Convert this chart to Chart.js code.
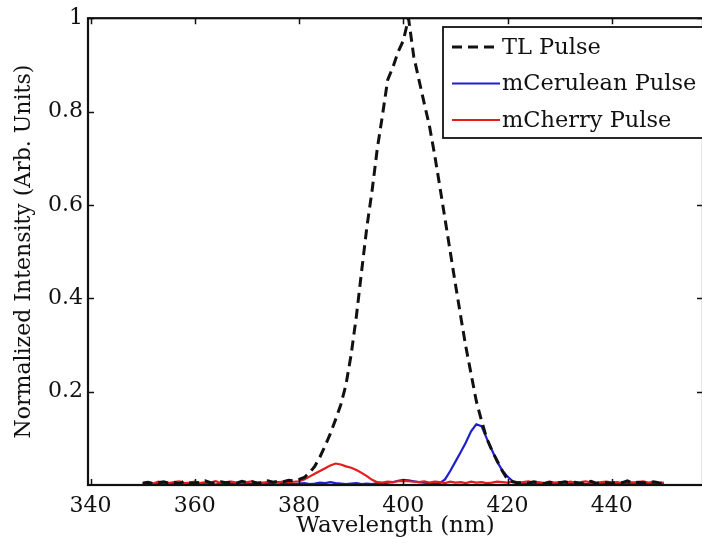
<!DOCTYPE html>
<html>
<head>
<meta charset="utf-8">
<script src="https://cdn.jsdelivr.net/npm/chart.js@4.4.1/dist/chart.umd.min.js"></script>
<style>
  html, body { margin: 0; padding: 0; overflow: hidden; background: #fff; }
  canvas { display: block; }
</style>
</head>
<body>
<canvas id="spectrumChart" width="760" height="550"></canvas>
<script>
// ── Spectra (normalized, 350–450 nm, 1 nm step) ─────────────
const wavelengths = [
    350, 351, 352, 353, 354, 355, 356, 357, 358, 359,
    360, 361, 362, 363, 364, 365, 366, 367, 368, 369,
    370, 371, 372, 373, 374, 375, 376, 377, 378, 379,
    380, 381, 382, 383, 384, 385, 386, 387, 388, 389,
    390, 391, 392, 393, 394, 395, 396, 397, 398, 399,
    400, 401, 402, 403, 404, 405, 406, 407, 408, 409,
    410, 411, 412, 413, 414, 415, 416, 417, 418, 419,
    420, 421, 422, 423, 424, 425, 426, 427, 428, 429,
    430, 431, 432, 433, 434, 435, 436, 437, 438, 439,
    440, 441, 442, 443, 444, 445, 446, 447, 448, 449,
    450
];

const tlPulse = [
    0.004, 0.006, 0.003, 0.005, 0.007, 0.004, 0.006, 0.003, 0.008, 0.005,
    0.004, 0.006, 0.009, 0.005, 0.004, 0.007, 0.005, 0.006, 0.004, 0.008,
    0.005, 0.007, 0.004, 0.006, 0.009, 0.006, 0.008, 0.007, 0.010, 0.009,
    0.012, 0.016, 0.026, 0.040, 0.060, 0.084, 0.110, 0.140, 0.172, 0.215,
    0.280, 0.362, 0.458, 0.552, 0.630, 0.720, 0.792, 0.868, 0.895, 0.928,
    0.952, 1.000, 0.918, 0.868, 0.818, 0.770, 0.708, 0.640, 0.570, 0.500,
    0.430, 0.362, 0.296, 0.238, 0.180, 0.138, 0.100, 0.074, 0.052, 0.030,
    0.012, 0.007, 0.005, 0.006, 0.004, 0.007, 0.005, 0.003, 0.006, 0.004,
    0.005, 0.007, 0.004, 0.006, 0.003, 0.005, 0.008, 0.004, 0.006, 0.005,
    0.004, 0.006, 0.005, 0.009, 0.004, 0.006, 0.005, 0.004, 0.007, 0.005,
    0.004
];

const ceruleanPulse = [
    0.002, 0.003, 0.001, 0.004, 0.002, 0.003, 0.002, 0.001, 0.003, 0.002,
    0.003, 0.002, 0.004, 0.002, 0.001, 0.003, 0.002, 0.004, 0.003, 0.002,
    0.004, 0.002, 0.003, 0.005, 0.002, 0.004, 0.006, 0.003, 0.004, 0.002,
    0.003, 0.004, 0.002, 0.003, 0.005, 0.004, 0.006, 0.004, 0.003, 0.002,
    0.003, 0.004, 0.002, 0.003, 0.002, 0.004, 0.003, 0.005, 0.006, 0.009,
    0.011, 0.010, 0.008, 0.006, 0.005, 0.004, 0.003, 0.004, 0.012, 0.030,
    0.050, 0.070, 0.091, 0.115, 0.130, 0.126, 0.100, 0.075, 0.050, 0.031,
    0.018, 0.008, 0.003, 0.004, 0.002, 0.003, 0.004, 0.002, 0.003, 0.002,
    0.004, 0.003, 0.002, 0.003, 0.005, 0.002, 0.003, 0.004, 0.002, 0.003,
    0.002, 0.004, 0.003, 0.002, 0.005, 0.003, 0.002, 0.004, 0.003, 0.002,
    0.003
];

const cherryPulse = [
    0.004, 0.006, 0.003, 0.007, 0.005, 0.004, 0.006, 0.008, 0.004, 0.005,
    0.007, 0.004, 0.006, 0.005, 0.008, 0.004, 0.006, 0.007, 0.005, 0.004,
    0.006, 0.008, 0.005, 0.004, 0.007, 0.006, 0.005, 0.008, 0.006, 0.007,
    0.008, 0.012, 0.018, 0.024, 0.030, 0.036, 0.042, 0.046, 0.044, 0.040,
    0.037, 0.032, 0.026, 0.019, 0.011, 0.006, 0.005, 0.007, 0.006, 0.008,
    0.009, 0.008, 0.007, 0.006, 0.008, 0.005, 0.007, 0.006, 0.004, 0.007,
    0.005, 0.006, 0.004, 0.007, 0.005, 0.006, 0.004, 0.005, 0.007, 0.006,
    0.005, 0.007, 0.004, 0.006, 0.008, 0.005, 0.006, 0.004, 0.007, 0.005,
    0.006, 0.004, 0.007, 0.005, 0.006, 0.008, 0.005, 0.004, 0.006, 0.007,
    0.005, 0.006, 0.004, 0.007, 0.005, 0.006, 0.008, 0.005, 0.006, 0.004,
    0.005
];

const xTicks = [340, 360, 380, 400, 420, 440];
const yTicks = [0.2, 0.4, 0.6, 0.8, 1];

(function () {
    const FAMILY = "'DejaVu Serif', serif";
    const TICK_FONT = { family: FAMILY, size: 22 };
    const INK = '#111';

    const toPoints = ys => wavelengths.map((w, i) => ({ x: w, y: ys[i] }));

    // ── Inward tick marks + full box frame ────────────────────
    const axesBox = {
        id: 'axesBox',
        afterDatasetsDraw(chart) {
            const { ctx, chartArea: a, scales: { x, y } } = chart;
            const len = 6;
            ctx.save();
            ctx.strokeStyle = INK;
            ctx.lineWidth = 1.5;
            ctx.beginPath();
            xTicks.forEach(v => {
                const px = Math.round(x.getPixelForValue(v)) + 0.5;
                ctx.moveTo(px, a.bottom); ctx.lineTo(px, a.bottom - len);
                ctx.moveTo(px, a.top); ctx.lineTo(px, a.top + len);
            });
            yTicks.forEach(v => {
                const py = Math.round(y.getPixelForValue(v)) + 0.5;
                ctx.moveTo(a.left, py); ctx.lineTo(a.left + len, py);
                ctx.moveTo(a.right, py); ctx.lineTo(a.right - len, py);
            });
            ctx.stroke();
            ctx.lineWidth = 2.2;
            ctx.strokeRect(a.left, a.top, a.right - a.left, a.bottom - a.top);
            ctx.restore();
        }
    };

    // ── Legend box (top right, runs off the edge) ─────────────
    const legendBox = {
        id: 'legendBox',
        afterDraw(chart) {
            const { ctx } = chart;
            const box = { x: 443, y: 27, w: 300, h: 111 };
            ctx.save();
            ctx.fillStyle = '#fff';
            ctx.fillRect(box.x, box.y, box.w, box.h);
            ctx.strokeStyle = INK;
            ctx.lineWidth = 1.8;
            ctx.strokeRect(box.x, box.y, box.w, box.h);
            ctx.font = `22.5px ${FAMILY}`;
            ctx.textBaseline = 'middle';
            chart.data.datasets.forEach((ds, i) => {
                const cy = box.y + 20 + i * 36.5;
                ctx.beginPath();
                ctx.strokeStyle = ds.borderColor;
                ctx.lineWidth = ds.borderWidth;
                ctx.setLineDash(ds.borderDash || []);
                ctx.moveTo(box.x + 9, cy);
                ctx.lineTo(box.x + 57, cy);
                ctx.stroke();
                ctx.setLineDash([]);
                ctx.fillStyle = INK;
                ctx.fillText(ds.label, box.x + 59, cy + 1);
            });
            ctx.restore();
        }
    };

    new Chart(document.getElementById('spectrumChart'), {
        type: 'line',
        data: {
            datasets: [
                {
                    label: 'TL Pulse',
                    data: toPoints(tlPulse),
                    borderColor: '#111',
                    borderWidth: 3,
                    borderDash: [10, 6],
                    order: 0
                },
                {
                    label: 'mCerulean Pulse',
                    data: toPoints(ceruleanPulse),
                    borderColor: '#1f1fcc',
                    borderWidth: 2.2,
                    order: 2
                },
                {
                    label: 'mCherry Pulse',
                    data: toPoints(cherryPulse),
                    borderColor: '#e41c1c',
                    borderWidth: 2.2,
                    order: 1
                }
            ]
        },
        options: {
            responsive: false,
            animation: false,
            layout: { padding: { top: 18, right: 57, left: 0, bottom: 0 } },
            elements: { point: { radius: 0 }, line: { tension: 0 } },
            plugins: { legend: { display: false }, tooltip: { enabled: false } },
            scales: {
                x: {
                    type: 'linear',
                    min: 339.5,
                    max: 457.5,
                    afterBuildTicks: s => { s.ticks = xTicks.map(v => ({ value: v })); },
                    afterFit: s => { s.height = 65; },
                    grid: { display: false, drawTicks: false },
                    border: { display: false },
                    ticks: { font: TICK_FONT, color: INK, padding: 8, maxRotation: 0, callback: v => String(v) },
                    title: {
                        display: true,
                        text: 'Wavelength (nm)',
                        font: { family: FAMILY, size: 23 },
                        color: INK,
                        padding: { top: 0, bottom: 10 }
                    }
                },
                y: {
                    min: 0,
                    max: 1,
                    afterBuildTicks: s => { s.ticks = yTicks.map(v => ({ value: v })); },
                    afterFit: s => { s.width = 88; },
                    grid: { display: false, drawTicks: false },
                    border: { display: false },
                    ticks: { font: TICK_FONT, color: INK, padding: 5, callback: v => String(v) },
                    title: {
                        display: true,
                        text: 'Normalized Intensity (Arb. Units)',
                        font: { family: FAMILY, size: 22 },
                        color: INK,
                        padding: { top: 11, bottom: 0 }
                    }
                }
            }
        },
        plugins: [axesBox, legendBox]
    });
})();
</script>
</body>
</html>
